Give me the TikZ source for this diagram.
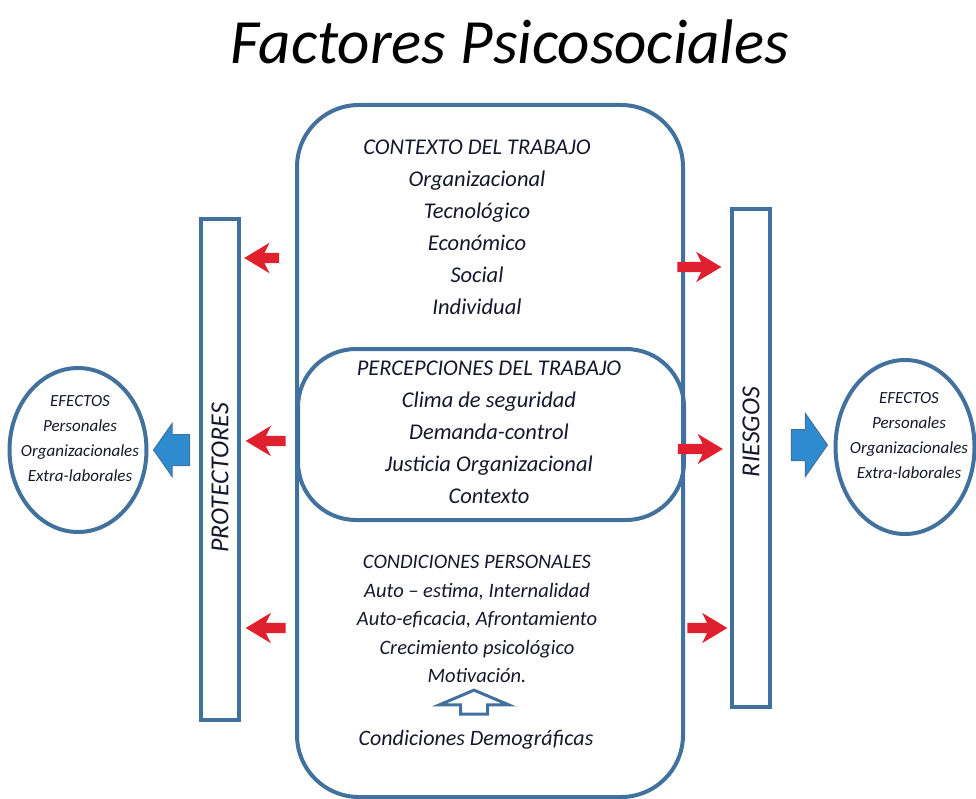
\documentclass[tikz,border=0pt]{standalone}
\usepackage{fontspec}
\setmainfont{Carlito}
\usetikzlibrary{shapes.arrows, shapes.geometric, positioning}
\definecolor{cframe}{HTML}{41719C}
\definecolor{cred}{HTML}{E0202E}
\definecolor{cfill}{HTML}{2E8BD0}
\definecolor{ctext}{HTML}{14182A}
\tikzset{
  every picture/.style={x=1pt, y=-1pt},
  frame/.style={draw=cframe, line width=4pt, rounded corners=#1, inner sep=0pt},
  frame/.default=60pt,
  bar/.style={draw=cframe, line width=4pt, fill=white, minimum width=38pt, minimum height=501pt, inner sep=0pt},
  effect/.style={draw=cframe, line width=4pt, ellipse, inner sep=0pt},
  efftxt/.style={align=center, text=ctext, font=\fontsize{17}{25}\selectfont\itshape},
  txt/.style={align=center, text=ctext, font=\fontsize{22.5}{32}\selectfont\itshape},
  redarrow/.style={single arrow, fill=cred, inner xsep=0pt, inner ysep=5pt, minimum height=35pt,
    single arrow head extend=10pt, single arrow tip angle=62, single arrow head indent=5pt},
  bluearrow/.style={single arrow, fill=cfill, draw=cframe, line width=1pt, inner xsep=0pt, inner ysep=15pt,
    minimum height=36pt, single arrow head extend=#1, single arrow tip angle=110},
  bluearrow/.default=12pt,
}
\begin{document}
\begin{tikzpicture}
  \useasboundingbox (0,0) rectangle (976,799);
  \node[font=\fontsize{63}{72}\selectfont\itshape] (title) at (510,42) {Factores Psicosociales};
  % central frame and inner block
  \node[frame=62pt, minimum width=386pt, minimum height=692pt] (work) at (490,451) {};
  \node[frame=58pt, minimum width=386pt, minimum height=171pt] (perc) at (491,434.5) {};
  \node[txt] (ctx) at (477,227) {CONTEXTO DEL TRABAJO\\Organizacional\\Tecnológico\\Económico\\Social\\Individual};
  \node[txt] (percl) at (489,432) {PERCEPCIONES DEL TRABAJO\\Clima de seguridad\\Demanda-control\\Justicia Organizacional\\Contexto};
  \node[txt, font=\fontsize{20.5}{28.5}\selectfont\itshape] (pers) at (477,619) {CONDICIONES PERSONALES\\Auto -- estima, Internalidad\\Auto-eficacia, Afrontamiento\\Crecimiento psicológico\\Motivación.};
  \node[single arrow, draw=cframe, line width=3pt, fill=white, rotate=90, inner xsep=0pt, inner ysep=12pt,
    minimum height=24pt, single arrow head extend=21pt, single arrow tip angle=134] (up) at (474,705) {};
  \node[txt, font=\fontsize{22}{26}\selectfont\itshape] (demo) at (476,740) {Condiciones Demográficas};
  % side bars
  \node[bar] (prot) at (220,469.5) {};
  \node[txt, rotate=90, font=\fontsize{26}{30}\selectfont\itshape] (protl) at (220,478) {PROTECTORES};
  \node[bar, minimum height=497pt] (risk) at (751,458) {};
  \node[txt, rotate=90, font=\fontsize{26}{30}\selectfont\itshape] (riskl) at (751,432) {RIESGOS};
  % red arrows
  \node[redarrow, rotate=180] (pa) at (266,258) {};
  \node[redarrow, rotate=180, minimum height=40pt] (pb) at (270,441) {};
  \node[redarrow, rotate=180, minimum height=40pt] (pc) at (270,628) {};
  \node[redarrow, minimum height=44pt] (ra) at (695,267) {};
  \node[redarrow, minimum height=45pt] (rb) at (696,449) {};
  \node[redarrow, minimum height=40pt] (rc) at (703,628) {};
  % effects
  \node[bluearrow=11pt, rotate=180] (left) at (177,450) {};
  \node[bluearrow=16pt] (right) at (804,445) {};
  \node[effect, minimum width=137pt, minimum height=164pt] (effl) at (78,450) {};
  \node[efftxt] (efflt) at (80,439) {EFECTOS\\Personales\\Organizacionales\\Extra-laborales};
  \node[effect, minimum width=139pt, minimum height=174pt] (effr) at (905,447) {};
  \node[efftxt] (effrt) at (909,436) {EFECTOS\\Personales\\Organizacionales\\Extra-laborales};
\end{tikzpicture}
\end{document}
